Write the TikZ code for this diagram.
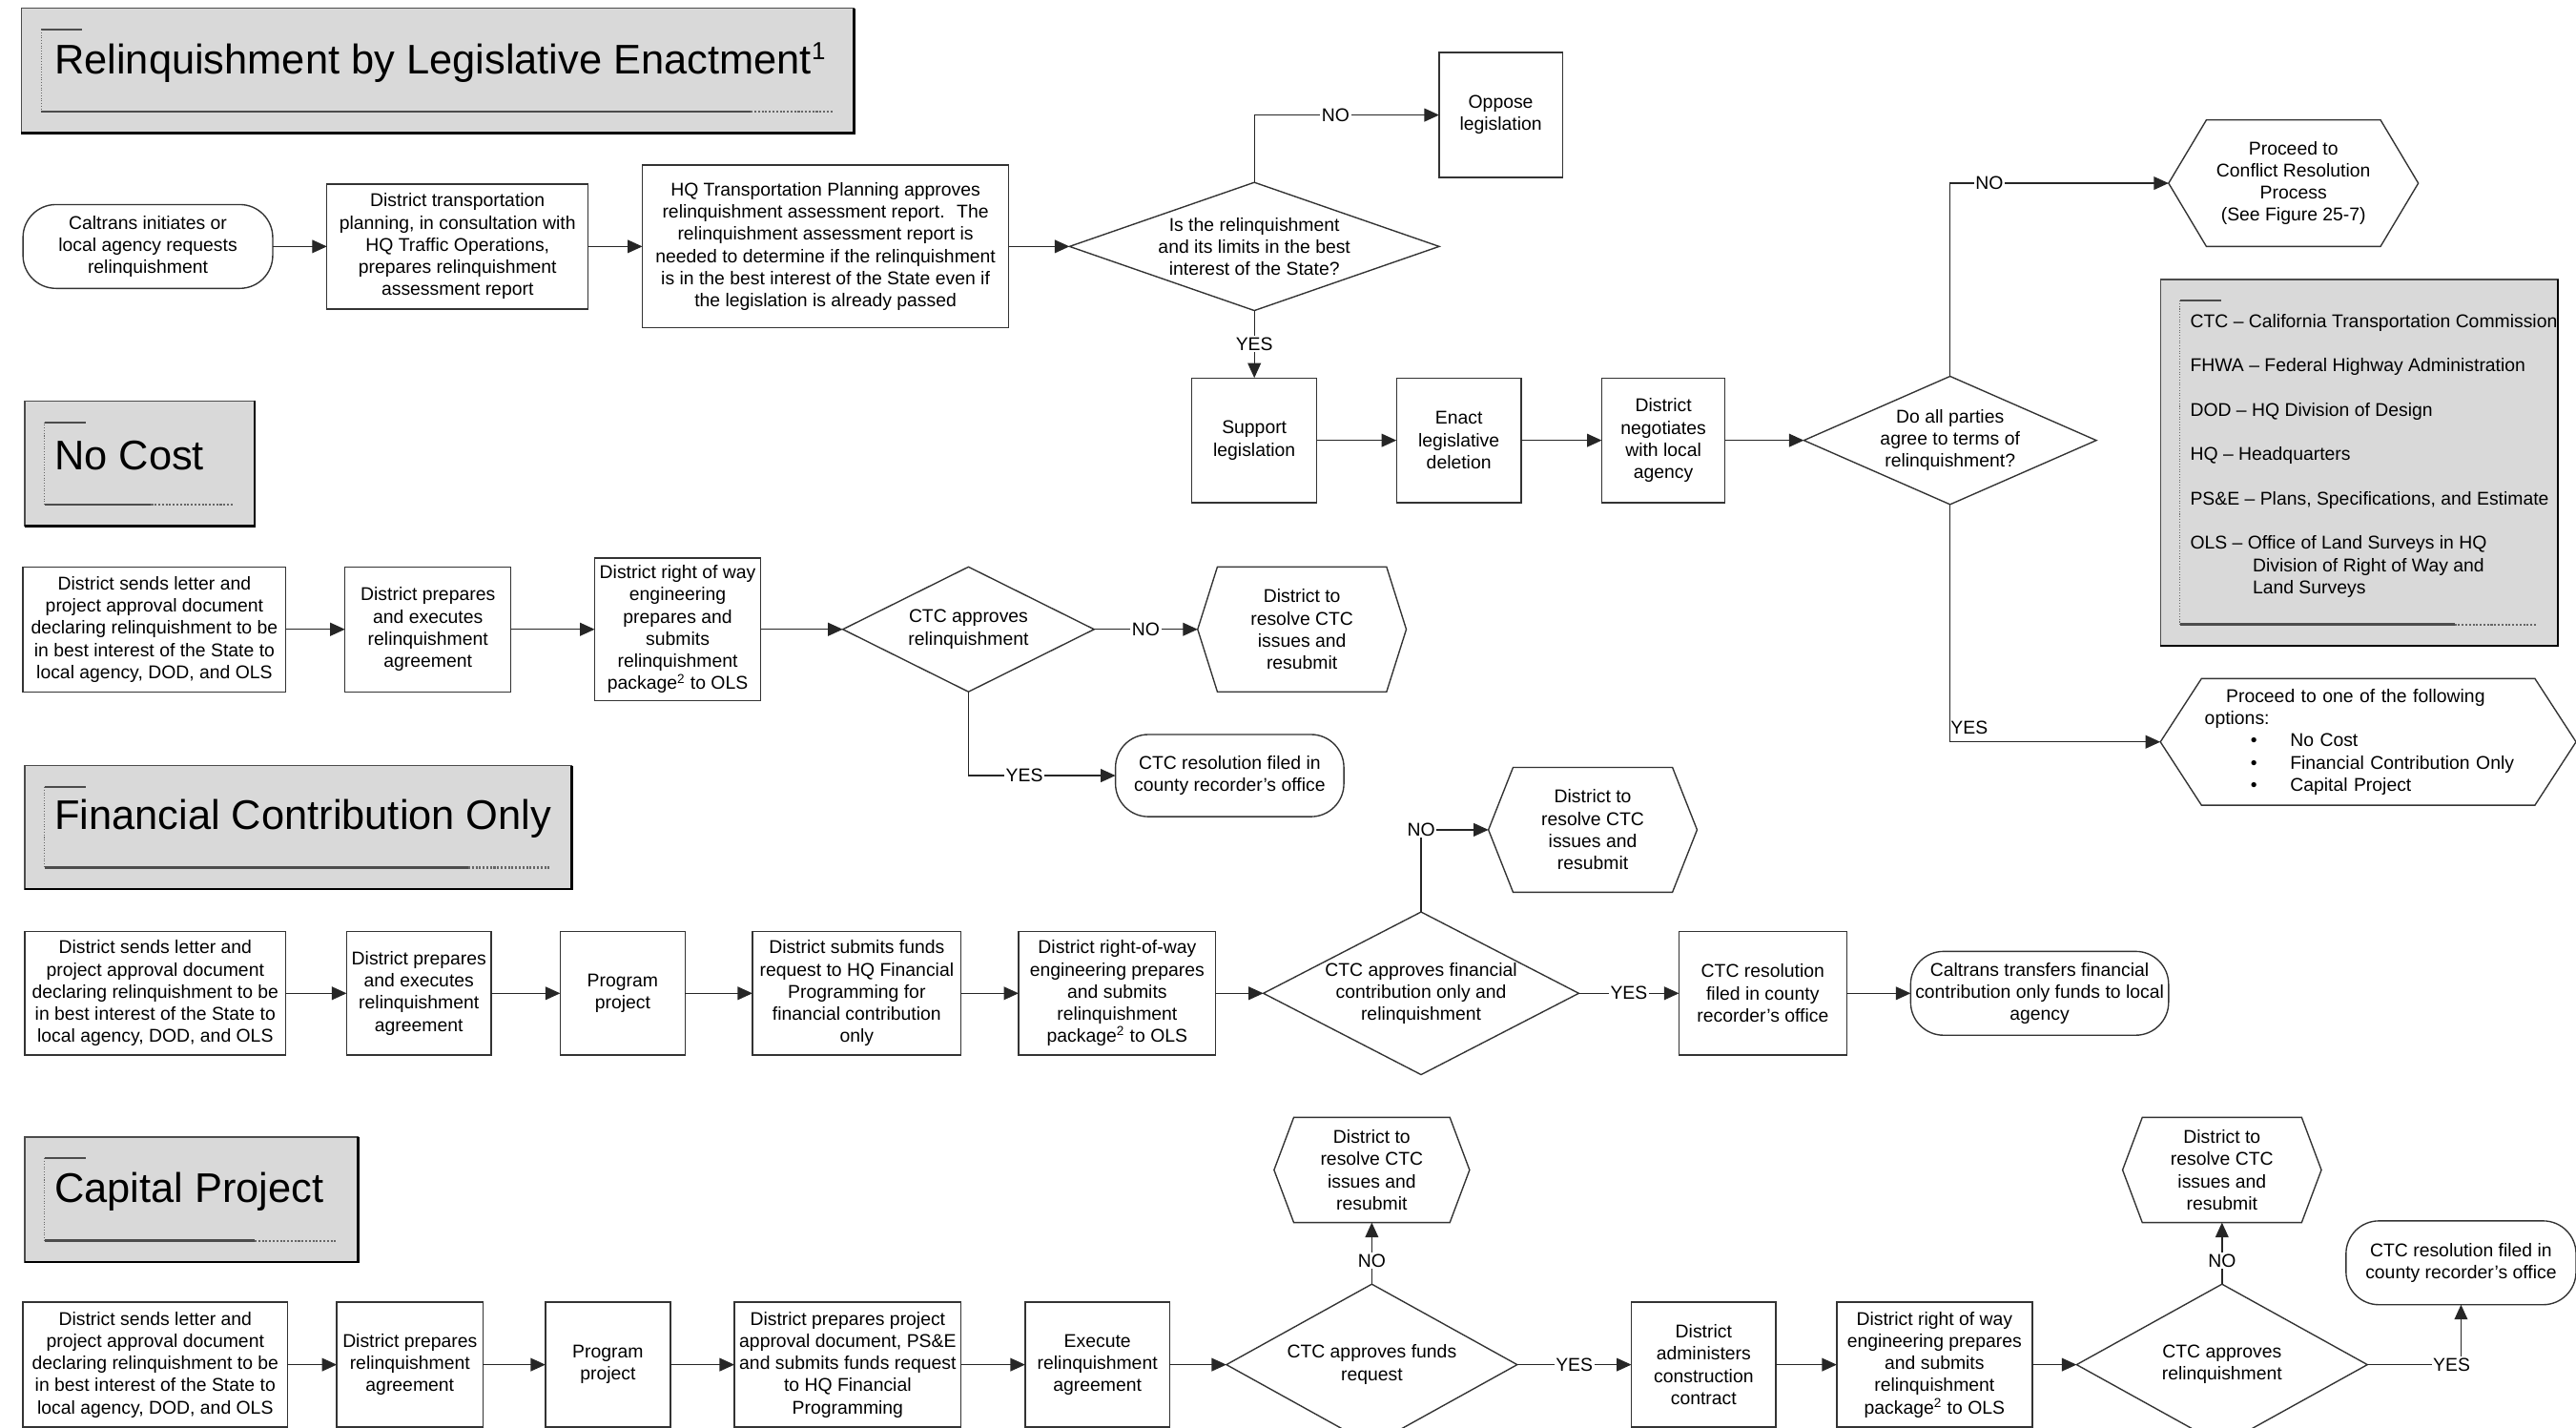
\documentclass[tikz,border=0pt]{standalone}
\usepackage{fontspec}
\setmainfont{Liberation Sans}
\usetikzlibrary{arrows.meta,shapes.geometric,calc}

\tikzset{
    every node/.style={font=\fontsize{11.25}{13.5}\selectfont},
    box/.style={rectangle, draw=black!80, line width=0.8pt, align=center, inner sep=1pt, outer sep=0pt},
    term/.style={box, rounded corners=20pt},
    decision/.style={diamond, draw=black!80, line width=0.8pt, align=center, inner sep=0pt, outer sep=0pt},
    hexcore/.style={rectangle, align=center, inner sep=0pt, outer sep=0pt},
    hexline/.style={draw=black!80, line width=0.8pt},
    flow/.style={draw=black!85, line width=0.8pt, -{Triangle[length=9pt,width=8pt]}},
    lbl/.style={fill=white, inner sep=1pt},
    banner/.style={rectangle, fill=black!15, draw=black!70, line width=0.8pt, anchor=north west, outer sep=0pt},
    bannertext/.style={anchor=west, inner sep=0pt, font=\fontsize{25.2}{30}\selectfont},
}

% shadow edges and inner rule of a grey banner
\newcommand{\bannerdeco}[1]{%
    \draw[black, line width=1.6pt] (#1.north east) -- (#1.south east) -- (#1.south west);
    \draw[black!70, line width=1.2pt] ($(#1.north west)+(12,13)$) -- ++(25,0);
    \draw[black!60, densely dotted, line width=0.6pt] ($(#1.north west)+(12,13)$) -- ($(#1.south west)+(12,-13)$);
    \draw[black!70, line width=1.5pt] ($(#1.south west)+(12,-13)$) -- ($(#1.south east)+(-63,-13)$);
    \draw[black!60, densely dotted, line width=1.2pt] ($(#1.south east)+(-63,-13)$) -- ($(#1.south east)+(-13,-13)$);
}
% hexagon outline round a core node, with its left tip as coordinate
\newcommand{\hexframe}[2]{%
    \draw[hexline] (#1.north west) -- (#1.north east) -- ($(#1.east)+(#2,0)$) -- (#1.south east)
        -- (#1.south west) -- ($(#1.west)-(#2,0)$) -- cycle;
    \coordinate (#1-tip) at ($(#1.west)-(#2,0)$);
}

\begin{document}
\begin{tikzpicture}[x=1pt, y=-1pt]
    \clip (0,0) rectangle (1568,869);

    % Relinquishment by legislative enactment
    \node[banner, minimum width=507pt, minimum height=76pt] (ban1) at (13,5) {};
    \bannerdeco{ban1}
    \node[bannertext] (ban1txt) at ($(ban1.west)+(20,-5)$) {Relinquishment by Legislative Enactment\textsuperscript{\fontsize{15}{15}\selectfont 1}};

    \node[term, minimum width=152pt, minimum height=51pt] (start) at (90,150) {Caltrans initiates or\\local agency requests\\relinquishment};
    \node[box, minimum width=159pt, minimum height=76pt] (tpl) at (278.5,150) {District transportation\\planning, in consultation with\\HQ Traffic Operations,\\prepares relinquishment\\assessment report};
    \node[box, minimum width=223pt, minimum height=99pt] (hqa) at (502.5,150) {HQ Transportation Planning approves\\relinquishment assessment report.~ The\\relinquishment assessment report is\\needed to determine if the relinquishment\\is in the best interest of the State even if\\the legislation is already passed};
    \node[decision, minimum width=225pt, minimum height=78pt, shape aspect=2.88] (q1) at (763.5,150) {Is the relinquishment\\and its limits in the best\\interest of the State?};
    \node[box, minimum width=75pt, minimum height=76pt] (oppose) at (913.5,70) {Oppose\\legislation};
    \node[box, minimum width=76pt, minimum height=76pt] (support) at (763.5,268) {Support\\legislation};
    \node[box, minimum width=76pt, minimum height=76pt] (enact) at (888,268) {Enact\\legislative\\deletion};
    \node[box, minimum width=75pt, minimum height=76pt] (neg) at (1012.5,268) {District\\negotiates\\with local\\agency};
    \node[decision, minimum width=178pt, minimum height=78pt, shape aspect=2.28] (q2) at (1187,268) {Do all parties\\agree to terms of\\relinquishment?};
    \node[hexcore, minimum width=106pt, minimum height=77pt] (conf) at (1396,111.5) {Proceed to\\Conflict Resolution\\Process\\(See Figure 25-7)};
    \hexframe{conf}{23}
    \node[hexcore, minimum width=203pt, minimum height=77pt, text width=199pt, align=left] (opts) at (1441.5,451.5) {\hspace*{13pt}Proceed to one of the following\\options:\\
        \hspace*{28pt}\makebox[24pt][l]{\textbullet}No Cost\\
        \hspace*{28pt}\makebox[24pt][l]{\textbullet}Financial Contribution Only\\
        \hspace*{28pt}\makebox[24pt][l]{\textbullet}Capital Project};
    \hexframe{opts}{25}

    \draw[flow] (start.east) -- (tpl.west);
    \draw[flow] (tpl.east) -- (hqa.west);
    \draw[flow] (hqa.east) -- (q1.west);
    \draw[flow] (q1.north) |- node[lbl, pos=0.72] (no1) {NO} (oppose.west);
    \draw[flow] (q1.south) -- node[lbl] (yes1) {YES} (support.north);
    \draw[flow] (support.east) -- (enact.west);
    \draw[flow] (enact.east) -- (neg.west);
    \draw[flow] (neg.east) -- (q2.west);
    \draw[flow] (q2.north) |- node[lbl, pos=0.59] (no2) {NO} (conf-tip);
    \draw[flow] (q2.south) |- node[anchor=south west, inner xsep=0pt, inner ysep=4pt, pos=0.5] (yes2) {YES} (opts-tip);

    % Abbreviations
    \node[banner, minimum width=242pt, minimum height=223pt] (legend) at (1315,170) {};
    \bannerdeco{legend}
    \node[anchor=north west, align=left, inner sep=0pt] (legtxt) at (1333,191) {CTC -- California Transportation Commission\\[13.5pt]
        FHWA -- Federal Highway Administration\\[13.5pt]
        DOD -- HQ Division of Design\\[13.5pt]
        HQ -- Headquarters\\[13.5pt]
        PS\&E -- Plans, Specifications, and Estimate\\[13.5pt]
        OLS -- Office of Land Surveys in HQ\\
        \hspace*{38pt}Division of Right of Way and\\
        \hspace*{38pt}Land Surveys};

    % No cost
    \node[banner, minimum width=140pt, minimum height=76pt] (ban2) at (15,244) {};
    \bannerdeco{ban2}
    \node[bannertext] (ban2txt) at ($(ban2.west)+(18,-5)$) {No Cost};

    \begin{scope}[shift={(0,383)}]
        \node[box, minimum width=160pt, minimum height=76pt] (ns1) at (94,0) {District sends letter and\\project approval document\\declaring relinquishment to be\\in best interest of the State to\\local agency, DOD, and OLS};
        \node[box, minimum width=101pt, minimum height=76pt] (ns2) at (260.5,0) {District prepares\\and executes\\relinquishment\\agreement};
        \node[box, minimum width=101pt, minimum height=87pt] (ns3) at (412.5,0) {District right of way\\engineering\\prepares and\\submits\\relinquishment\\package\textsuperscript{2} to OLS};
        \node[decision, minimum width=153pt, minimum height=76pt, shape aspect=2] (nq) at (589.5,0) {CTC approves\\relinquishment};
        \node[hexcore, minimum width=103pt, minimum height=76pt] (nhex) at (792.5,0) {District to\\resolve CTC\\issues and\\resubmit};
        \hexframe{nhex}{12}
        \node[term, minimum width=139pt, minimum height=50pt] (nres) at (748.5,89) {CTC resolution filed in\\county recorder's office};
    \end{scope}

    \draw[flow] (ns1.east) -- (ns2.west);
    \draw[flow] (ns2.east) -- (ns3.west);
    \draw[flow] (ns3.east) -- (nq.west);
    \draw[flow] (nq.east) -- node[lbl] (no3) {NO} (nhex-tip);
    \draw[flow] (nq.south) |- node[lbl, pos=0.69] (yes3) {YES} (nres.west);

    % Financial contribution only
    \node[banner, minimum width=333pt, minimum height=75pt] (ban3) at (15,466) {};
    \bannerdeco{ban3}
    \node[bannertext] (ban3txt) at ($(ban3.west)+(18,-5)$) {Financial Contribution Only};

    \begin{scope}[shift={(0,604.5)}]
        \node[box, minimum width=159pt, minimum height=75pt] (f1) at (94.5,0) {District sends letter and\\project approval document\\declaring relinquishment to be\\in best interest of the State to\\local agency, DOD, and OLS};
        \node[box, minimum width=88pt, minimum height=75pt] (f2) at (255,0) {District prepares\\and executes\\relinquishment\\agreement};
        \node[box, minimum width=76pt, minimum height=75pt] (f3) at (379,0) {Program\\project};
        \node[box, minimum width=127pt, minimum height=75pt] (f4) at (521.5,0) {District submits funds\\request to HQ Financial\\Programming for\\financial contribution\\only};
        \node[box, minimum width=120pt, minimum height=75pt] (f5) at (680,0) {District right-of-way\\engineering prepares\\and submits\\relinquishment\\package\textsuperscript{2} to OLS};
        \node[decision, minimum width=192pt, minimum height=99pt, shape aspect=1.94] (fq) at (865,0) {CTC approves financial\\contribution only and\\relinquishment};
        \node[hexcore, minimum width=97pt, minimum height=76pt] (fhex) at (969.5,-99.5) {District to\\resolve CTC\\issues and\\resubmit};
        \hexframe{fhex}{15}
        \node[box, minimum width=102pt, minimum height=75pt] (f6) at (1073,0) {CTC resolution\\filed in county\\recorder's office};
        \node[term, minimum width=157pt, minimum height=51pt] (f7) at (1241.5,0) {Caltrans transfers financial\\contribution only funds to local\\agency};
    \end{scope}

    \draw[flow] (f1.east) -- (f2.west);
    \draw[flow] (f2.east) -- (f3.west);
    \draw[flow] (f3.east) -- (f4.west);
    \draw[flow] (f4.east) -- (f5.west);
    \draw[flow] (f5.east) -- (fq.west);
    \draw[flow] (fq.north) |- node[lbl, pos=0.5] (no4) {NO} (fhex-tip);
    \draw[flow] (fq.east) -- node[lbl] (yes4) {YES} (f6.west);
    \draw[flow] (f6.east) -- (f7.west);

    % Capital project
    \node[banner, minimum width=203pt, minimum height=76pt] (ban4) at (15,692) {};
    \bannerdeco{ban4}
    \node[bannertext] (ban4txt) at ($(ban4.west)+(18,-5)$) {Capital Project};

    \begin{scope}[shift={(0,830.5)}]
        \node[box, minimum width=161pt, minimum height=76pt] (c1) at (94.5,0) {District sends letter and\\project approval document\\declaring relinquishment to be\\in best interest of the State to\\local agency, DOD, and OLS};
        \node[box, minimum width=89pt, minimum height=76pt] (c2) at (249.5,0) {District prepares\\relinquishment\\agreement};
        \node[box, minimum width=76pt, minimum height=76pt] (c3) at (370,0) {Program\\project};
        \node[box, minimum width=138pt, minimum height=76pt] (c4) at (516,0) {District prepares project\\approval document, PS\&E\\and submits funds request\\to HQ Financial\\Programming};
        \node[box, minimum width=88pt, minimum height=76pt] (c5) at (668,0) {Execute\\relinquishment\\agreement};
        \node[decision, minimum width=177pt, minimum height=98pt, shape aspect=1.8] (cq1) at (835,0) {CTC approves funds\\request};
        \node[hexcore, minimum width=95pt, minimum height=64pt] (chex1) at (835,-118.5) {District to\\resolve CTC\\issues and\\resubmit};
        \hexframe{chex1}{12}
        \node[box, minimum width=88pt, minimum height=76pt] (c6) at (1037,0) {District\\administers\\construction\\contract};
        \node[box, minimum width=119pt, minimum height=76pt] (c7) at (1177.5,0) {District right of way\\engineering prepares\\and submits\\relinquishment\\package\textsuperscript{2} to OLS};
        \node[decision, minimum width=177pt, minimum height=98pt, shape aspect=1.8] (cq2) at (1352.5,0) {CTC approves\\relinquishment};
        \node[hexcore, minimum width=97pt, minimum height=64pt] (chex2) at (1352.5,-118.5) {District to\\resolve CTC\\issues and\\resubmit};
        \hexframe{chex2}{12}
        \node[term, minimum width=140pt, minimum height=51pt] (cres) at (1498,-62) {CTC resolution filed in\\county recorder's office};
    \end{scope}

    \draw[flow] (c1.east) -- (c2.west);
    \draw[flow] (c2.east) -- (c3.west);
    \draw[flow] (c3.east) -- (c4.west);
    \draw[flow] (c4.east) -- (c5.west);
    \draw[flow] (c5.east) -- (cq1.west);
    \draw[flow] (cq1.north) -- node[lbl, pos=0.38] (no5) {NO} (chex1.south);
    \draw[flow] (cq1.east) -- node[lbl] (yes5) {YES} (c6.west);
    \draw[flow] (c6.east) -- (c7.west);
    \draw[flow] (c7.east) -- (cq2.west);
    \draw[flow] (cq2.north) -- node[lbl, pos=0.38] (no6) {NO} (chex2.south);
    \draw[flow] (cq2.east) -| node[lbl, pos=0.45] (yes6) {YES} (cres.south);
\end{tikzpicture}
\end{document}
